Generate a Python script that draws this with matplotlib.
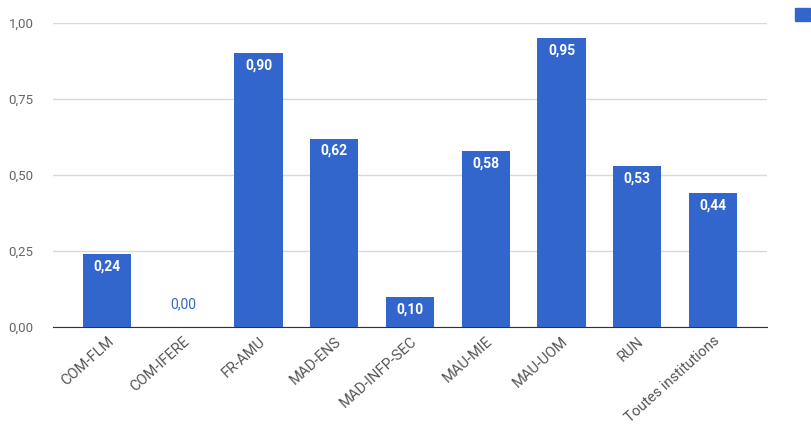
import matplotlib.pyplot as plt
from matplotlib.patches import Patch

plt.rcParams['font.family'] = ['Roboto', 'DejaVu Sans']

categories = ['COM-FLM', 'COM-IFERE', 'FR-AMU', 'MAD-ENS', 'MAD-INFP-SEC',
              'MAU-MIE', 'MAU-UOM', 'RUN', 'Toutes institutions']
values = [0.24, 0.00, 0.90, 0.62, 0.10, 0.58, 0.95, 0.53, 0.44]
yticks = [0.0, 0.25, 0.5, 0.75, 1.0]

blue = '#3366cc'

fig = plt.figure(figsize=(8.12, 4.25), dpi=100)
ax = fig.add_axes([53 / 812, 1 - 327 / 425, 714 / 812, 304 / 425])

x = list(range(len(categories)))
bars = ax.bar(x, values, width=0.635, color=blue, zorder=3)

for b, v in zip(bars, values):
    txt = f'{v:.2f}'.replace('.', ',')
    cx = b.get_x() + b.get_width() / 2
    if v >= 0.05:
        ax.annotate(txt, (cx, v), xytext=(0, -9), textcoords='offset points',
                    ha='center', va='center', color='white', fontsize=10, fontweight='bold')
    else:
        ax.annotate(txt, (cx, v), xytext=(0, 16), textcoords='offset points',
                    ha='center', va='center', color=blue, fontsize=10)

ax.set_xlim(-0.714, 8.714)
ax.set_ylim(0, 1)
ax.set_yticks(yticks)
ax.set_yticklabels([f'{t:.2f}'.replace('.', ',') for t in yticks], color='#666666', fontsize=9.5)
ax.yaxis.grid(True, color='#d9d9d9', linewidth=1, zorder=0)
ax.tick_params(axis='y', length=0, pad=14)
ax.tick_params(axis='x', length=0, pad=5)
ax.set_xticks(x)
ax.set_xticklabels(categories, rotation=42, ha='right', rotation_mode='anchor',
                   color='#555555', fontsize=10.5)
for s in ['top', 'right', 'left']:
    ax.spines[s].set_visible(False)
ax.spines['bottom'].set_color('#333333')
ax.spines['bottom'].set_zorder(4)

fig.legend(handles=[Patch(color=blue)], labels=[''], loc='upper left',
           bbox_to_anchor=(795 / 812, 1 - 8 / 425), frameon=False,
           handlelength=1.1, handleheight=1.1, borderpad=0, borderaxespad=0)

fig.savefig('out.png', dpi=100)
